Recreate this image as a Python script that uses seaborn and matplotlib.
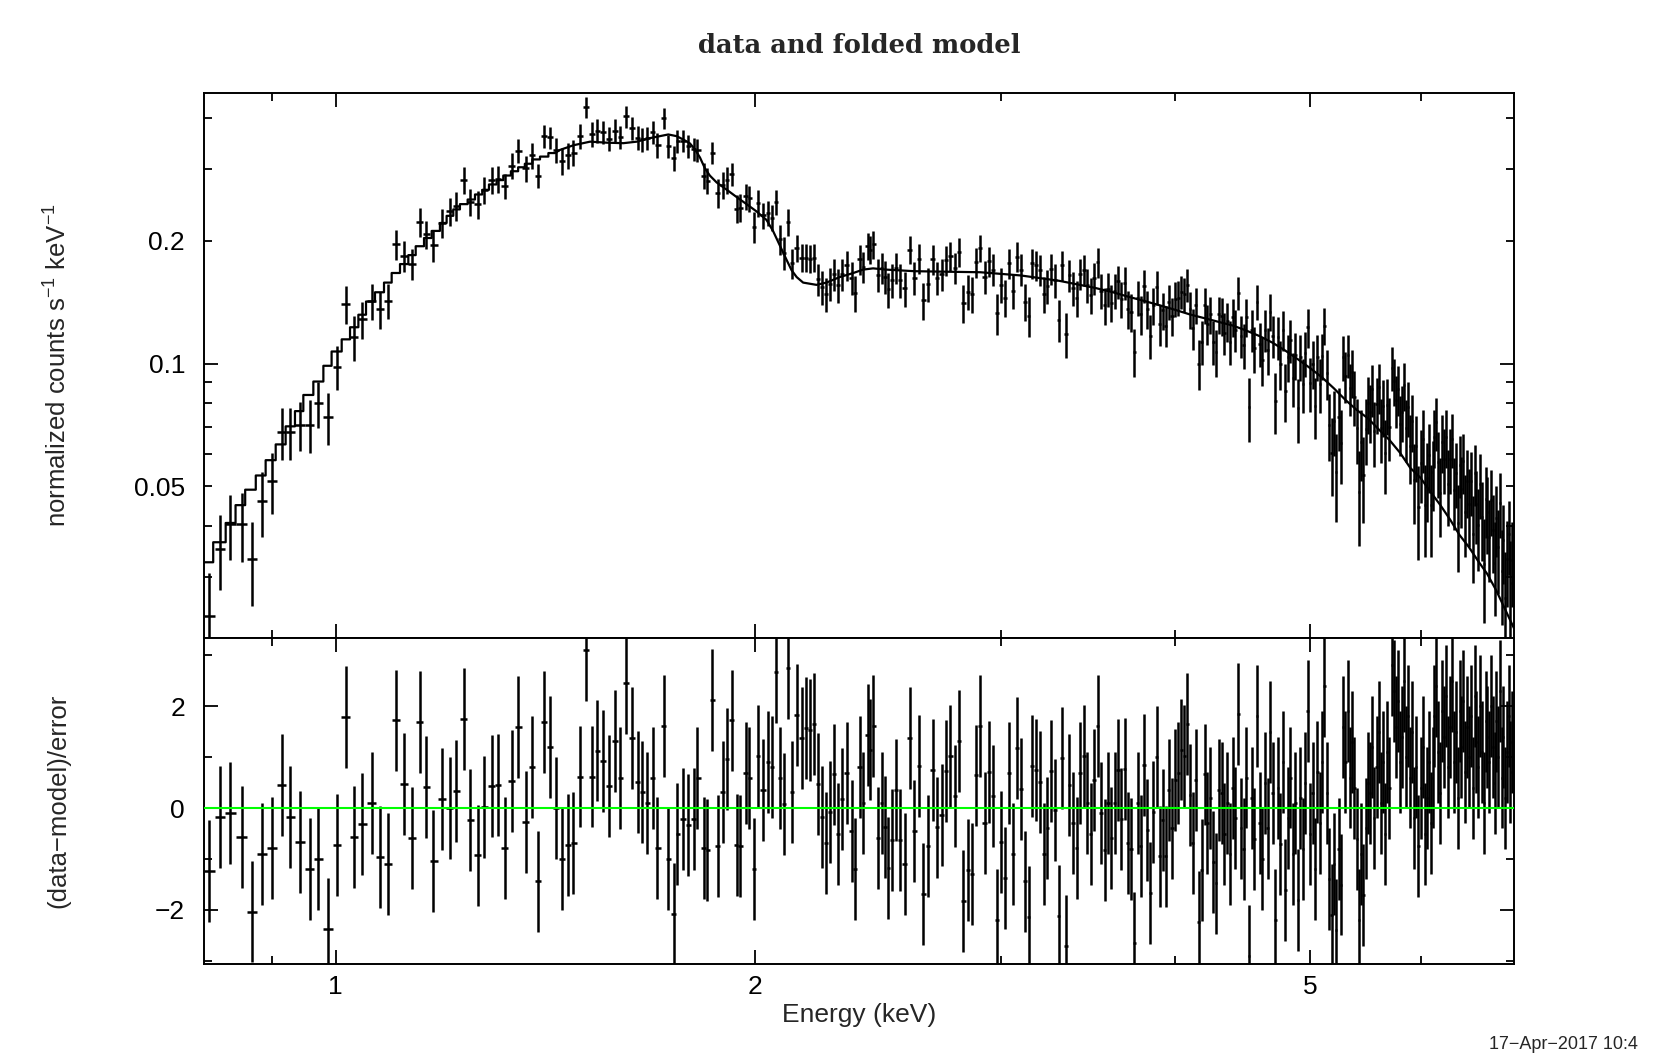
import numpy as np
import matplotlib
matplotlib.use("Agg")
import matplotlib.pyplot as plt
import seaborn as sns
from matplotlib.ticker import FixedLocator, FixedFormatter, FuncFormatter, NullFormatter

# ---- spectrum below 1.43 keV (bin centres, keV) ----
energy_lo = [0.8114, 0.8259, 0.8397, 0.8560, 0.8711, 0.8847, 0.8995, 0.9155, 0.9272, 0.9426,
             0.9583, 0.9715, 0.9877, 1.0015, 1.0170, 1.0305, 1.0437, 1.0611, 1.0757, 1.0895,
             1.1046, 1.1193, 1.1336, 1.1492, 1.1607, 1.1748, 1.1912, 1.2077, 1.2197, 1.2360,
             1.2483, 1.2643, 1.2775, 1.2938, 1.3067, 1.3226, 1.3373, 1.3520, 1.3686, 1.3822,
             1.3974, 1.4113, 1.4247]
rate_lo = [0.0241, 0.0352, 0.0404, 0.0404, 0.0332, 0.0460, 0.0516, 0.0681, 0.0681, 0.0709,
           0.0709, 0.0799, 0.0738, 0.0984, 0.1400, 0.1161, 0.1284, 0.1422, 0.1358, 0.1428,
           0.1960, 0.1837, 0.1758, 0.2225, 0.2073, 0.1952, 0.2212, 0.2363, 0.2435, 0.2817,
           0.2495, 0.2460, 0.2667, 0.2817, 0.2834, 0.2722, 0.3053, 0.3329, 0.3010, 0.3243,
           0.2891, 0.3608, 0.3586]
err_lo = [0.0065, 0.0074, 0.0073, 0.0077, 0.0077, 0.0084, 0.0088, 0.0099, 0.0099, 0.0098,
          0.0104, 0.0104, 0.0107, 0.0123, 0.0148, 0.0144, 0.0135, 0.0142, 0.0143, 0.0143,
          0.0167, 0.0160, 0.0153, 0.0178, 0.0166, 0.0176, 0.0177, 0.0190, 0.0195, 0.0214,
          0.0190, 0.0192, 0.0205, 0.0210, 0.0215, 0.0196, 0.0223, 0.0226, 0.0217, 0.0240,
          0.0202, 0.0227, 0.0222]
resid_lo = [-1.23, -0.18, -0.10, -0.56, -2.03, -0.90, -0.79, 0.45, -0.18, -0.66,
            -1.20, -1.00, -2.37, -0.72, 1.79, -0.56, -0.31, 0.10, -0.96, -1.10,
            1.72, 0.48, -0.59, 1.69, 0.41, -1.03, 0.18, 0.00, 0.34, 1.75,
            -0.24, -0.93, 0.03, 0.43, 0.45, -0.79, 0.54, 1.59, -0.28, 0.80,
            -1.44, 1.69, 1.20]

# ---- 1.43 - 2.53 keV ----
energy_mid = [1.4388, 1.4524, 1.4669, 1.4805, 1.4970, 1.5119, 1.5262, 1.5403, 1.5557, 1.5712,
              1.5860, 1.5992, 1.6152, 1.6304, 1.6467, 1.6576, 1.6730, 1.6897, 1.7009, 1.7198,
              1.7321, 1.7485, 1.7581, 1.7756, 1.7886, 1.8073, 1.8172, 1.8374, 1.8475, 1.8628,
              1.8795, 1.8951, 1.9077, 1.9244, 1.9394, 1.9500, 1.9685, 1.9802, 1.9953, 2.0095,
              2.0242, 2.0430, 2.0545, 2.0691, 2.0828, 2.0966, 2.1095, 2.1256, 2.1411, 2.1588,
              2.1742, 2.1886, 2.2031, 2.2188, 2.2313, 2.2461, 2.2621, 2.2771, 2.2910, 2.3062,
              2.3253, 2.3446, 2.3574, 2.3770, 2.3900, 2.4074, 2.4166, 2.4298, 2.4500, 2.4638,
              2.4773, 2.4908, 2.5049, 2.5228]
rate_mid = [0.334, 0.314, 0.324, 0.329, 0.361, 0.426, 0.365, 0.372, 0.369, 0.356,
            0.372, 0.359, 0.404, 0.378, 0.358, 0.355, 0.357, 0.370, 0.344, 0.399,
            0.342, 0.319, 0.351, 0.352, 0.342, 0.335, 0.334, 0.289, 0.281, 0.329,
            0.262, 0.274, 0.282, 0.292, 0.240, 0.241, 0.257, 0.254, 0.216, 0.248,
            0.231, 0.234, 0.228, 0.249, 0.202, 0.187, 0.222, 0.176, 0.192, 0.182,
            0.182, 0.181, 0.182, 0.161, 0.154, 0.148, 0.157, 0.166, 0.156, 0.166,
            0.174, 0.162, 0.149, 0.180, 0.173, 0.194, 0.190, 0.196, 0.165, 0.172,
            0.163, 0.152, 0.160, 0.172]
err_mid = [0.024, 0.024, 0.024, 0.024, 0.025, 0.025, 0.025, 0.025, 0.024, 0.024,
           0.025, 0.024, 0.025, 0.025, 0.024, 0.024, 0.024, 0.024, 0.024, 0.024,
           0.022, 0.022, 0.022, 0.022, 0.022, 0.022, 0.022, 0.021, 0.021, 0.021,
           0.021, 0.021, 0.021, 0.019, 0.019, 0.019, 0.019, 0.019, 0.019, 0.019,
           0.017, 0.017, 0.017, 0.017, 0.017, 0.017, 0.017, 0.0145, 0.0145, 0.0145,
           0.0145, 0.0145, 0.0145, 0.0145, 0.0145, 0.0145, 0.0145, 0.015, 0.015, 0.015,
           0.015, 0.015, 0.015, 0.015, 0.015, 0.015, 0.015, 0.015, 0.015, 0.015,
           0.015, 0.015, 0.015, 0.015]
resid_mid = [0.00, -1.00, -0.72, -0.68, 0.62, 3.10, 0.62, 1.13, 0.93, 0.43,
             1.31, 0.59, 2.45, 1.38, 0.52, 0.31, 0.10, 0.59, -0.79, 1.62,
             -1.00, -2.07, -0.51, -0.21, -0.34, -0.21, 0.59, -0.79, -0.82, 2.13,
             -0.75, 0.31, 0.97, 1.72, -0.72, -0.74, 0.69, 0.59, -1.20, 1.03,
             0.35, 0.90, 0.80, 2.68, 0.59, 0.08, 2.75, 0.31, 1.82, 1.38,
             1.57, 1.54, 1.65, 0.48, -0.18, -0.68, -0.07, 0.66, -0.51, 0.18,
             0.69, -0.45, -1.20, 0.80, 0.10, 1.44, 1.15, 1.62, -0.59, 0.10,
             -0.37, -1.17, -0.62, 0.35]

# ---- 2.54 - 6.98 keV ----
energy_hi = [2.54, 2.56, 2.58, 2.60, 2.62, 2.64, 2.66, 2.68, 2.70,
             2.72, 2.74, 2.76, 2.78, 2.80, 2.82, 2.84, 2.86, 2.88, 2.90,
             2.92, 2.94, 2.96, 2.98, 3.00, 3.02, 3.04, 3.06, 3.08, 3.10,
             3.12, 3.14, 3.16, 3.18, 3.20, 3.22, 3.24, 3.26, 3.28, 3.30,
             3.32, 3.34, 3.36, 3.38, 3.40, 3.42, 3.44, 3.46, 3.48, 3.50,
             3.52, 3.54, 3.56, 3.58, 3.60, 3.62, 3.64, 3.66, 3.68, 3.70,
             3.72, 3.74, 3.76, 3.78, 3.80, 3.82, 3.84, 3.86, 3.88, 3.90,
             3.92, 3.94, 3.96, 3.98, 4.00, 4.02, 4.04, 4.06, 4.08, 4.10,
             4.12, 4.14, 4.16, 4.18, 4.20, 4.22, 4.24, 4.26, 4.28, 4.30,
             4.32, 4.34, 4.36, 4.38, 4.40, 4.42, 4.44, 4.46, 4.48, 4.50,
             4.52, 4.54, 4.56, 4.58, 4.60, 4.62, 4.64, 4.66, 4.68, 4.70,
             4.72, 4.74, 4.76, 4.78, 4.80, 4.82, 4.84, 4.86, 4.88, 4.90,
             4.92, 4.94, 4.96, 4.98, 5.00, 5.02, 5.04, 5.06, 5.08, 5.10,
             5.12, 5.14, 5.16, 5.18, 5.20, 5.22, 5.24, 5.26, 5.28, 5.30,
             5.32, 5.34, 5.36, 5.38, 5.40, 5.42, 5.44, 5.46, 5.48, 5.50,
             5.52, 5.54, 5.56, 5.58, 5.60, 5.62, 5.64, 5.66, 5.68, 5.70,
             5.72, 5.74, 5.76, 5.78, 5.80, 5.82, 5.84, 5.86, 5.88, 5.90,
             5.92, 5.94, 5.96, 5.98, 6.00, 6.02, 6.04, 6.06, 6.08, 6.10,
             6.12, 6.14, 6.16, 6.18, 6.20, 6.22, 6.24, 6.26, 6.28, 6.30,
             6.32, 6.34, 6.36, 6.38, 6.40, 6.42, 6.44, 6.46, 6.48, 6.50,
             6.52, 6.54, 6.56, 6.58, 6.60, 6.62, 6.64, 6.66, 6.68, 6.70,
             6.72, 6.74, 6.76, 6.78, 6.80, 6.82, 6.84, 6.86, 6.88, 6.90, 6.92, 6.94, 6.96, 6.98]
rate_hi = [0.160, 0.153, 0.190, 0.162, 0.181, 0.143, 0.157, 0.180, 0.162,
           0.166, 0.179, 0.184, 0.172, 0.188, 0.141, 0.150, 0.148, 0.177, 0.192,
           0.163, 0.178, 0.170, 0.133, 0.156, 0.145, 0.176, 0.151, 0.183, 0.170,
           0.142, 0.131, 0.176, 0.174, 0.170, 0.148, 0.155, 0.171, 0.160, 0.128,
           0.174, 0.118, 0.165, 0.153, 0.145, 0.166, 0.170, 0.156, 0.147, 0.162,
           0.177, 0.151, 0.139, 0.152, 0.141, 0.151, 0.159, 0.144, 0.158, 0.136,
           0.134, 0.107, 0.145, 0.132, 0.155, 0.136, 0.117, 0.139, 0.154, 0.125,
           0.135, 0.124, 0.142, 0.131, 0.144, 0.145, 0.150, 0.148, 0.156, 0.136,
           0.122, 0.139, 0.100, 0.113, 0.139, 0.125, 0.132, 0.113, 0.107, 0.132,
           0.131, 0.119, 0.127, 0.113, 0.130, 0.121, 0.149, 0.117, 0.111, 0.130,
           0.0783, 0.121, 0.109, 0.142, 0.112, 0.102, 0.121, 0.108, 0.134, 0.117,
           0.0812, 0.116, 0.100, 0.121, 0.0859, 0.104, 0.114, 0.0923, 0.105, 0.0777,
           0.104, 0.0892, 0.106, 0.123, 0.0897, 0.100, 0.0789, 0.104, 0.0893, 0.1045,
           0.124, 0.0946, 0.0709, 0.0605, 0.0725, 0.0542, 0.0742, 0.0639, 0.104, 0.0934,
           0.105, 0.0873, 0.0953, 0.0830, 0.0694, 0.0484, 0.0642, 0.0533, 0.0691, 0.0799,
           0.0763, 0.0866, 0.0683, 0.0798, 0.0876, 0.0694, 0.0786, 0.0604, 0.0794, 0.0700,
           0.0977, 0.0908, 0.0815, 0.0866, 0.0713, 0.0763, 0.0885, 0.0695, 0.0781, 0.0627,
           0.0722, 0.0520, 0.0629, 0.0445, 0.0571, 0.0655, 0.0451, 0.0524, 0.0597, 0.0450,
           0.0542, 0.0662, 0.0718, 0.0574, 0.0482, 0.0644, 0.0584, 0.0662, 0.0507, 0.0585,
           0.0653, 0.0489, 0.0541, 0.0407, 0.0566, 0.0493, 0.0576, 0.0434, 0.0517, 0.0453,
           0.0516, 0.0382, 0.0541, 0.0454, 0.0402, 0.0507, 0.0420, 0.0323, 0.0466, 0.0434,
           0.0377, 0.0464, 0.0391, 0.0325, 0.0419, 0.0355, 0.0456, 0.0310, 0.0369, 0.0266, 0.0332, 0.0382, 0.0290, 0.0331]
err_hi = [0.015, 0.015, 0.015, 0.015, 0.015, 0.015, 0.015, 0.015, 0.015,
          0.015, 0.015, 0.015, 0.015, 0.015, 0.015, 0.015, 0.015, 0.015, 0.015,
          0.0152, 0.0152, 0.0152, 0.0152, 0.0152, 0.0152, 0.0152, 0.0152, 0.0152, 0.0152,
          0.015, 0.015, 0.015, 0.015, 0.015, 0.015, 0.015, 0.015, 0.015, 0.015,
          0.0148, 0.0148, 0.0148, 0.0148, 0.0148, 0.0148, 0.0148, 0.0148, 0.0148, 0.0148,
          0.0146, 0.0146, 0.0146, 0.0146, 0.0146, 0.0146, 0.0146, 0.0146, 0.0146, 0.0146,
          0.0144, 0.0144, 0.0144, 0.0144, 0.0144, 0.0144, 0.0144, 0.0144, 0.0144, 0.0144,
          0.0142, 0.0142, 0.0142, 0.0142, 0.0142, 0.0142, 0.0142, 0.0142, 0.0142, 0.0142,
          0.014, 0.014, 0.014, 0.014, 0.014, 0.014, 0.014, 0.014, 0.014, 0.014,
          0.014, 0.014, 0.014, 0.014, 0.014, 0.014, 0.014, 0.014, 0.014, 0.014,
          0.014, 0.014, 0.014, 0.014, 0.014, 0.014, 0.014, 0.014, 0.014, 0.014,
          0.0138, 0.0138, 0.0138, 0.0138, 0.0138, 0.0138, 0.0138, 0.0138, 0.0138, 0.0138,
          0.0135, 0.0135, 0.0135, 0.0135, 0.0135, 0.0135, 0.0135, 0.0135, 0.0135, 0.0135,
          0.0132, 0.0132, 0.0132, 0.0132, 0.0132, 0.0132, 0.0132, 0.0132, 0.0132, 0.0132,
          0.0127, 0.0127, 0.0127, 0.0127, 0.0127, 0.0127, 0.0127, 0.0127, 0.0127, 0.0127,
          0.0124, 0.0124, 0.0124, 0.0124, 0.0124, 0.0124, 0.0124, 0.0124, 0.0124, 0.0124,
          0.012, 0.012, 0.012, 0.012, 0.012, 0.012, 0.012, 0.012, 0.012, 0.012,
          0.0115, 0.0115, 0.0115, 0.0115, 0.0115, 0.0115, 0.0115, 0.0115, 0.0115, 0.0115,
          0.0106, 0.0106, 0.0106, 0.0106, 0.0106, 0.0106, 0.0106, 0.0106, 0.0106, 0.0106,
          0.0098, 0.0098, 0.0098, 0.0098, 0.0098, 0.0098, 0.0098, 0.0098, 0.0098, 0.0098,
          0.0092, 0.0092, 0.0092, 0.0092, 0.0092, 0.0092, 0.0092, 0.0092, 0.0092, 0.0092,
          0.0086, 0.0085, 0.0085, 0.0084, 0.0083, 0.0083, 0.0082, 0.0081, 0.0081, 0.0080, 0.0079, 0.0079, 0.0078, 0.0078]
resid_hi = [-0.62, -1.10, 1.38, -0.45, 0.83, -1.69, -0.75, 0.75, -0.38,
            -0.13, 0.72, 1.03, 0.24, 1.31, -1.82, -1.21, -1.30, 0.64, 1.62,
            -0.30, 0.70, 0.23, -2.20, -0.66, -1.38, 0.69, -0.90, 1.18, 0.37,
            -1.44, -2.14, 0.83, 0.75, 0.52, -0.90, -0.39, 0.72, -0.03, -2.12,
            0.98, -2.71, 0.46, -0.30, -0.79, 0.69, 1.02, 0.10, -0.51, 0.56,
            1.62, -0.10, -0.82, 0.10, -0.59, 0.10, 0.75, -0.22, 0.77, -0.68,
            -0.81, -2.64, 0.10, -0.75, 0.85, -0.43, -1.67, -0.07, 1.00, -0.95,
            -0.23, -0.95, 0.35, -0.40, 0.56, 0.69, 1.15, 1.02, 1.65, 0.26,
            -0.69, 0.56, -2.23, -1.21, 0.66, -0.30, 0.20, -1.05, -1.48, 0.35,
            0.30, -0.50, 0.10, -0.90, 0.40, -0.20, 1.84, -0.40, -0.80, 0.60,
            -2.90, 0.20, -0.60, 1.80, -0.30, -1.00, 0.50, -0.40, 1.50, 0.30,
            -2.20, 0.40, -0.70, 0.90, -1.60, -0.20, 0.60, -0.90, 0.10, -1.80,
            0.20, -0.80, 0.50, 1.90, -0.50, 0.30, -1.20, 0.70, -0.30, 0.90,
            2.40, 0.30, -1.40, -2.10, -1.10, -2.40, -0.80, -1.50, 1.60, 0.90,
            1.90, 0.60, 1.30, 0.40, -0.60, -2.20, -0.90, -1.70, -0.40, 0.50,
            0.30, 1.20, -0.20, 0.80, 1.50, 0.10, 0.90, -0.50, 1.10, 0.40,
            2.80, 2.30, 1.60, 2.10, 0.90, 1.40, 2.50, 1.00, 1.80, 0.60,
            1.50, -0.20, 0.80, -0.75, 0.40, 1.20, -0.50, 0.20, 0.90, -0.30,
            0.60, 1.80, 2.40, 1.10, 0.30, 1.90, 1.40, 2.20, 0.80, 1.60,
            2.50, 0.90, 1.50, 0.20, 1.90, 1.20, 2.10, 0.70, 1.60, 1.00,
            1.80, 0.40, 2.20, 1.30, 0.80, 2.00, 1.10, 0.10, 1.70, 1.40,
            0.90, 2.00, 1.20, 0.50, 1.70, 1.00, 2.30, 0.60, 1.40, 0.20, 1.10, 1.80, 0.70, 1.30]

# ---- folded model: response-binned steps below 1.44 keV, then smooth ----
model_step_edges = [0.8050, 0.8167, 0.8337, 0.8474, 0.8610, 0.8762, 0.8906, 0.9055, 0.9205, 0.9348,
                    0.9478, 0.9636, 0.9797, 0.9931, 1.0098, 1.0238, 1.0380, 1.0512, 1.0669, 1.0829,
                    1.0967, 1.1119, 1.1273, 1.1411, 1.1569, 1.1716, 1.1877, 1.2009, 1.2142, 1.2276,
                    1.2433, 1.2585, 1.2737, 1.2879, 1.3043, 1.3187, 1.3354, 1.3515, 1.3665, 1.3836,
                    1.4012, 1.4207, 1.4363]
model_step_vals = [0.0326, 0.0365, 0.0407, 0.0450, 0.0491, 0.0532, 0.0580, 0.0634, 0.0702, 0.0765,
                   0.0838, 0.0904, 0.0988, 0.1071, 0.1147, 0.1228, 0.1318, 0.1420, 0.1496, 0.1580,
                   0.1668, 0.1754, 0.1845, 0.1940, 0.2032, 0.2115, 0.2212, 0.2303, 0.2388, 0.2460,
                   0.2525, 0.2598, 0.2667, 0.2749, 0.2817, 0.2891, 0.2962, 0.3029, 0.3090, 0.3166,
                   0.3217, 0.3282]
model_e = [1.4363, 1.448, 1.481, 1.522, 1.564, 1.608, 1.644, 1.680, 1.732, 1.756,
           1.776, 1.795, 1.810, 1.825, 1.840, 1.855, 1.876, 1.907, 1.939, 1.971,
           2.004, 2.037, 2.059, 2.082, 2.105, 2.123, 2.141, 2.164, 2.212, 2.249,
           2.299, 2.350, 2.389, 2.429, 2.483, 2.60, 2.80, 2.90, 3.00, 3.10,
           3.20, 3.30, 3.40, 3.50, 3.60, 3.70, 3.80, 3.90, 4.00, 4.10,
           4.20, 4.30, 4.40, 4.50, 4.60, 4.70, 4.80, 4.90, 5.00, 5.10,
           5.20, 5.30, 5.40, 5.50, 5.60, 5.70, 5.80, 5.90, 6.00, 6.10,
           6.20, 6.30, 6.40, 6.50, 6.60, 6.70, 6.80, 6.90, 7.00]
model_v = [0.3282, 0.334, 0.343, 0.350, 0.348, 0.347, 0.350, 0.357, 0.3645, 0.361,
           0.354, 0.3465, 0.335, 0.320, 0.301, 0.289, 0.278, 0.267, 0.256, 0.246,
           0.236, 0.225, 0.2115, 0.195, 0.180, 0.1695, 0.163, 0.158, 0.156, 0.158,
           0.163, 0.1667, 0.170, 0.1712, 0.170, 0.1685, 0.1678, 0.1675, 0.166, 0.1645,
           0.162, 0.1597, 0.1565, 0.1535, 0.150, 0.146, 0.1425, 0.139, 0.1355, 0.132,
           0.1292, 0.1265, 0.1240, 0.1205, 0.1168, 0.1125, 0.1076, 0.1025, 0.0975, 0.0925,
           0.087, 0.0815, 0.077, 0.0735, 0.069, 0.065, 0.0605, 0.0555, 0.0525, 0.0485,
           0.045, 0.0415, 0.038, 0.0355, 0.0328, 0.0305, 0.0278, 0.025, 0.0225]

energy = np.array(energy_lo + energy_mid + energy_hi)
rate = np.array(rate_lo + rate_mid + rate_hi)
rate_err = np.array(err_lo + err_mid + err_hi)
resid = np.array(resid_lo + resid_mid + resid_hi)
assert len(energy) == len(rate) == len(rate_err) == len(resid)

# x error bars = half channel width (midpoints between neighbouring bins)
mid = (energy[1:] + energy[:-1]) / 2
lo_edge = np.concatenate([[2 * energy[0] - mid[0]], mid])
hi_edge = np.concatenate([mid, [2 * energy[-1] - mid[-1]]])
xerr = [energy - lo_edge, hi_edge - energy]

# model polyline
mx, my = [], []
for i, v in enumerate(model_step_vals):
    mx += [model_step_edges[i], model_step_edges[i + 1]]
    my += [v, v]
mx += model_e
my += model_v

sns.set_theme(style="ticks")
plt.rcParams["font.family"] = ["Liberation Sans", "DejaVu Sans"]
plt.rcParams["mathtext.default"] = "regular"
plt.rcParams["axes.linewidth"] = 1.4
plt.rcParams["axes.edgecolor"] = "black"

fig = plt.figure(figsize=(16.61, 10.57), dpi=100)
fig.patch.set_facecolor("white")
ax1 = fig.add_axes([0.1231, 0.3967, 0.7882, 0.5151])
ax2 = fig.add_axes([0.1231, 0.0880, 0.7882, 0.3087])

ax1.set_xscale("log")
ax1.set_yscale("log")
ax2.set_xscale("log")

ax1.errorbar(energy, rate, xerr=xerr, yerr=rate_err, fmt="none",
             ecolor="black", elinewidth=1.8, capsize=0, zorder=2)
sns.lineplot(x=mx, y=my, sort=False, estimator=None, color="black",
             linewidth=1.6, ax=ax1, zorder=3)

ax2.errorbar(energy, resid, xerr=xerr, yerr=1.0, fmt="none",
             ecolor="black", elinewidth=1.8, capsize=0, zorder=2)
ax2.axhline(0, color="#00ff00", linewidth=1.5, zorder=3)

for ax in (ax1, ax2):
    ax.set_xlim(0.805, 6.998)
    ax.xaxis.set_major_locator(FixedLocator([1, 2, 5]))
    ax.xaxis.set_minor_locator(FixedLocator([0.9, 3, 4, 6]))
    ax.xaxis.set_minor_formatter(NullFormatter())
    ax.tick_params(which="both", direction="in", top=True, right=True,
                   width=1.3, color="black", labelsize=19, labelcolor="black")
    ax.tick_params(which="major", length=10)
    ax.tick_params(which="minor", length=5.5)
    ax.tick_params(axis="y", which="both", pad=14)
    ax.tick_params(axis="x", which="both", pad=8)
    ax.set_xlabel("")
    ax.set_ylabel("")

ax1.xaxis.set_major_formatter(NullFormatter())
ax2.xaxis.set_major_formatter(FixedFormatter(["1", "2", "5"]))

ax1.set_ylim(0.0213, 0.46)
ax1.yaxis.set_major_locator(FixedLocator([0.1]))
ax1.yaxis.set_major_formatter(FixedFormatter(["0.1"]))
ax1.yaxis.set_minor_locator(FixedLocator([0.03, 0.04, 0.05, 0.06, 0.07, 0.08, 0.09, 0.2, 0.3, 0.4]))
ax1.yaxis.set_minor_formatter(FuncFormatter(
    lambda v, p: {0.05: "0.05", 0.2: "0.2"}.get(round(v, 3), "")))

ax2.set_ylim(-3.06, 3.345)
ax2.yaxis.set_major_locator(FixedLocator([-2, 0, 2]))
ax2.yaxis.set_major_formatter(FixedFormatter(["\u22122", "0", "2"]))
ax2.yaxis.set_minor_locator(FixedLocator([-3, -1, 1, 3]))
ax2.yaxis.set_minor_formatter(NullFormatter())

fig.text(0.5172, 0.957, "data and folded model", ha="center", va="center",
         fontsize=18.5, family="DejaVu Serif", fontweight="bold")
fig.text(0.5172, 0.0397, "Energy (keV)", ha="center", va="center", fontsize=19)
fig.text(0.0349, 0.6542, "normalized counts s$^{-1}$ keV$^{-1}$", rotation=90,
         ha="center", va="center", fontsize=18.5)
fig.text(0.0349, 0.2422, "(data\u2212model)/error", rotation=90,
         ha="center", va="center", fontsize=18.5)
fig.text(0.8965, 0.004, "17\u2212Apr\u22122017 10:4", ha="left", va="bottom", fontsize=13)

fig.savefig("out.png", dpi=100, facecolor="white")
